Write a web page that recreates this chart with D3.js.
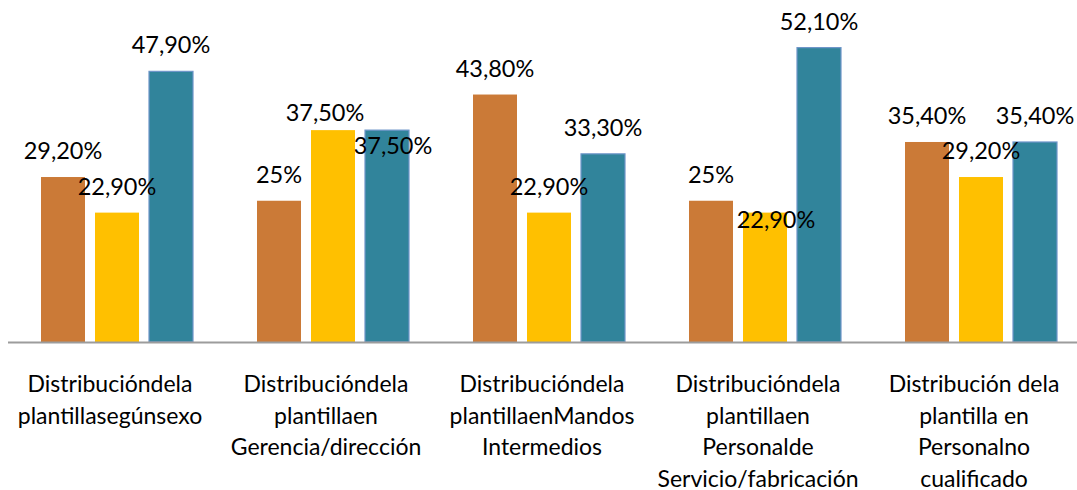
<!DOCTYPE html>
<html>
<head>
<meta charset="utf-8">
<script src="https://cdn.jsdelivr.net/npm/d3@7"></script>
<style>
  html, body { margin: 0; padding: 0; background: #fff; }
  svg { display: block; font-family: Lato, "Open Sans", sans-serif; }
</style>
</head>
<body>
<script>
// datos
const categories = [
  ["Distribucióndela", "plantillasegúnsexo"],
  ["Distribucióndela", "plantillaen", "Gerencia/dirección"],
  ["Distribucióndela", "plantillaenMandos", "Intermedios"],
  ["Distribucióndela", "plantillaen", "Personalde", "Servicio/fabricación"],
  ["Distribución dela", "plantilla en", "Personalno", "cualificado"]
];
const seriesA = [29.2, 25, 43.8, 25, 35.4];   // naranja
const seriesB = [22.9, 37.5, 22.9, 22.9, 29.2]; // amarillo
const seriesC = [47.9, 37.5, 33.3, 52.1, 35.4]; // azul
const valueLabels = [
  ["29,20%", "25%", "43,80%", "25%", "35,40%"],
  ["22,90%", "37,50%", "22,90%", "22,90%", "29,20%"],
  ["47,90%", "37,50%", "33,30%", "52,10%", "35,40%"]
];

const width = 1077, height = 490;
const colors = ["#CB7A37", "#FFC000", "#31849B"];

// etiquetas que Excel movio para que no se pisen [serie-categoria] -> [dx, dy]
const labelNudge = {
  "1-1": [-8, 9],
  "2-1": [6, 42],
  "1-3": [11, 33]
};

const svg = d3.select("body").append("svg")
  .attr("width", width).attr("height", height);

const x0 = d3.scaleBand()
  .domain(d3.range(categories.length))
  .range([9, 1089]);

const x1 = d3.scaleBand()
  .domain([0, 1, 2])
  .range([0, x0.bandwidth()])
  .paddingInner(10 / 54)
  .paddingOuter(0.5926);

const y = d3.scaleLinear().domain([0, 60]).range([342, 3]);

const series = [seriesA, seriesB, seriesC];

const bars = svg.append("g");
series.forEach((vals, s) => {
  bars.selectAll(".bar" + s)
    .data(vals)
    .enter().append("rect")
    .attr("x", (d, i) => x0(i) + x1(s))
    .attr("y", d => y(d))
    .attr("width", x1.bandwidth())
    .attr("height", d => y(0) - y(d))
    .attr("fill", colors[s])
    .attr("stroke", s === 2 ? "#6E95C9" : "none")
    .attr("stroke-width", 1.2);
});

// eje horizontal
svg.append("line")
  .attr("x1", 8).attr("x2", width)
  .attr("y1", 342.5).attr("y2", 342.5)
  .attr("stroke", "#9C9C9C").attr("stroke-width", 2);

// etiquetas de valor
const labels = svg.append("g").attr("font-size", 23.5).attr("fill", "#000");
series.forEach((vals, s) => {
  labels.selectAll(".lab" + s)
    .data(vals)
    .enter().append("text")
    .attr("text-anchor", "middle")
    .attr("x", (d, i) => {
      const n = labelNudge[s + "-" + i];
      return x0(i) + x1(s) + x1.bandwidth() / 2 + (n ? n[0] : 0);
    })
    .attr("y", (d, i) => {
      const n = labelNudge[s + "-" + i];
      return y(d) - 18 + (n ? n[1] : 0);
    })
    .text((d, i) => valueLabels[s][i]);
});

// categorias
const cat = svg.append("g").attr("font-size", 23).attr("fill", "#000");
categories.forEach((lines, i) => {
  const cx = x0(i) + x0.bandwidth() / 2 - 7;
  const t = cat.append("text")
    .attr("text-anchor", "middle")
    .attr("x", cx)
    .attr("y", 392);
  lines.forEach((ln, k) => {
    t.append("tspan")
      .attr("x", cx)
      .attr("y", 392 + k * 31.5)
      .text(ln);
  });
});
</script>
</body>
</html>
